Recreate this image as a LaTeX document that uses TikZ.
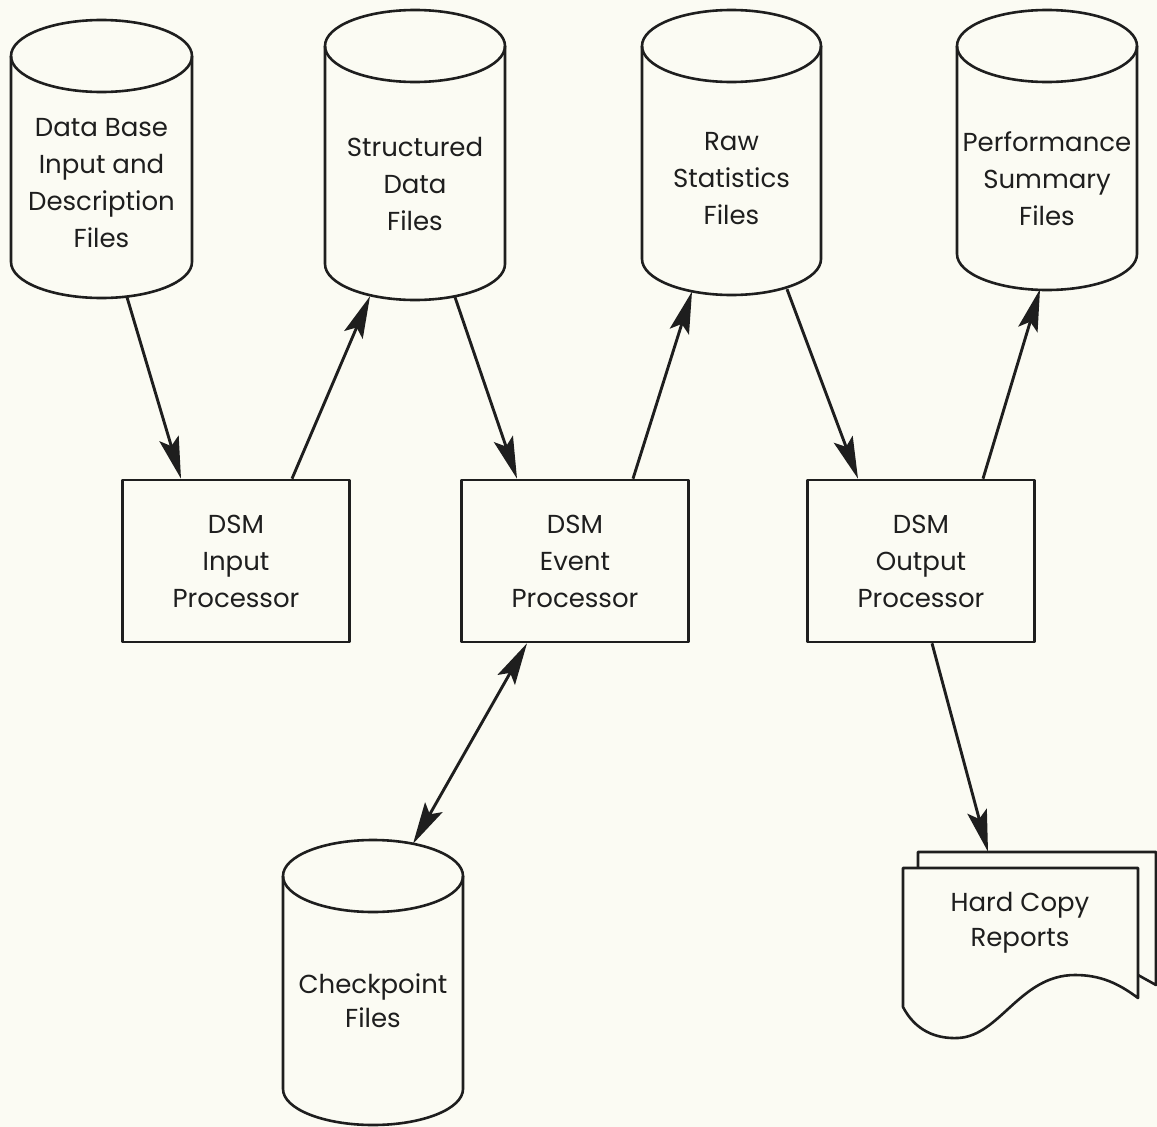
\documentclass[tikz,border=0pt]{standalone}
\usepackage{fontspec}
\setmainfont{Poppins}
\usetikzlibrary{arrows.meta,calc}
\definecolor{bg}{RGB}{251,251,243}
\definecolor{ink}{RGB}{30,30,30}
\tikzset{
  ink line/.style={draw=ink,line width=2.6pt,line join=round},
  procbox/.style={ink line,rectangle,minimum width=227pt,minimum height=162pt,align=center,font=\fontsize{26}{37}\selectfont,text=ink,inner sep=0pt},
  cylarea/.style={rectangle,draw=none,inner sep=0pt},
  label text/.style={align=center,font=\fontsize{26}{37}\selectfont,text=ink,inner sep=0pt},
  flow/.style={draw=ink,line width=2.9pt,-{Stealth[length=42pt,width=20pt,inset=8pt]}},
  flow both/.style={draw=ink,line width=2.9pt,{Stealth[length=42pt,width=20pt,inset=8pt]}-{Stealth[length=42pt,width=20pt,inset=8pt]}}
}
\newcommand\dbcyl[5]{%
  \node[cylarea,minimum width={(#3-#2)*1pt},minimum height={(#5-#4)*1pt}] (#1) at ({(#2+#3)/2},{-(#4+#5)/2}) {};
  \draw[ink line] (#2,{-(#4+36)}) -- (#2,{-(#5-36)}) arc[start angle=180,end angle=360,x radius={(#3-#2)/2*1pt},y radius=36pt] -- (#3,{-(#4+36)});
  \draw[ink line] ({(#2+#3)/2},{-(#4+36)}) ellipse[x radius={(#3-#2)/2*1pt},y radius=36pt];
}
\begin{document}
\begin{tikzpicture}[x=1pt,y=1pt]
\fill[bg] (0,0) rectangle (1157,-1127);
\useasboundingbox (0,0) rectangle (1157,-1127);

% cylinders
\dbcyl{c1}{11}{192}{20}{298}
\node[label text] (t1) at (101.5,-183) {Data Base\\Input and\\Description\\Files};
\dbcyl{c2}{325}{505}{10}{300}
\node[label text] (t2) at (415,-184) {Structured\\Data\\Files};
\dbcyl{c3}{642}{821}{10}{295}
\node[label text] (t3) at (731.5,-179) {Raw\\Statistics\\Files};
\dbcyl{c4}{957}{1137}{10}{290}
\node[label text] (t4) at (1047,-179) {Performance\\Summary\\Files};
\dbcyl{c5}{283}{463}{840}{1125}
\node[label text,font=\fontsize{26}{34}\selectfont] (t5) at (373,-1001) {Checkpoint\\Files};

% processors
\node[procbox] (b1) at (236,-561) {DSM\\Input\\Processor};
\node[procbox] (b2) at (575,-561) {DSM\\Event\\Processor};
\node[procbox] (b3) at (921,-561) {DSM\\Output\\Processor};

% hard copy document
\node[cylarea,minimum width=254pt,minimum height=186pt] (doc) at (1030,-945) {};
\draw[ink line] (918,-868) -- (918,-852) -- (1156,-852) -- (1156,-985) -- (1138,-975);
\draw[ink line,fill=bg] (903,-868) -- (1138,-868) -- (1138,-998)
  .. controls (1118,-983) and (1100,-975) .. (1075,-975)
  .. controls (1020,-975) and (1000,-1036) .. (958,-1038)
  .. controls (935,-1039) and (915,-1030) .. (903,-1007) -- cycle;
\node[label text,font=\fontsize{26}{35}\selectfont] (t6) at (1020,-923) {Hard Copy\\Reports};

% connectors
\draw[flow] ($(c1.south)+(25.5,1)$) -- ($(b1.north)+(-55,0)$);
\draw[flow] ($(b1.north)+(56,0)$) -- ($(c2.south)+(-45,4)$);
\draw[flow] ($(c2.south)+(40,3)$) -- ($(b2.north)+(-58,0)$);
\draw[flow] ($(b2.north)+(58,0)$) -- ($(c3.south)+(-39.5,3.7)$);
\draw[flow] ($(c3.south)+(55.5,6)$) -- ($(b3.north)+(-63,0)$);
\draw[flow] ($(b3.north)+(62,0)$) -- ($(c4.south)+(-7,1)$);
\draw[flow both] ($(b2.south)+(-48,0)$) -- ($(c5.north)+(40,-4)$);
\draw[flow] ($(b3.south)+(11,0)$) -- ($(doc.north)+(-42,0)$);
\end{tikzpicture}
\end{document}
